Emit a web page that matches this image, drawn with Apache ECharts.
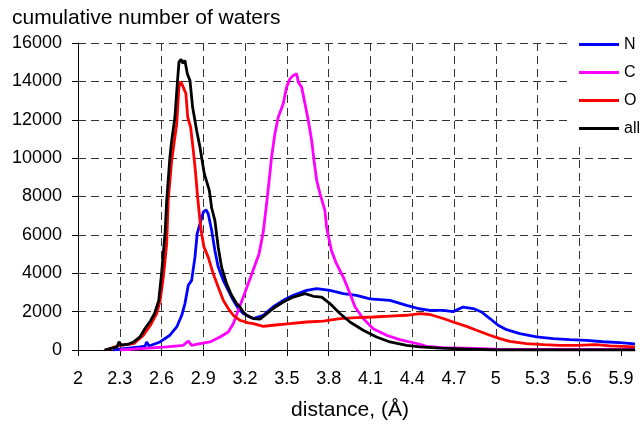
<!DOCTYPE html>
<html><head><meta charset="utf-8">
<script src="https://cdn.jsdelivr.net/npm/echarts@6/dist/echarts.min.js"></script>
<style>html,body{margin:0;padding:0;background:#fff}#c{width:640px;height:424px}</style>
</head><body><div id="c"></div>
<script>
const xTicks = [2, 2.3, 2.6, 2.9, 3.2, 3.5, 3.8, 4.1, 4.4, 4.7, 5, 5.3, 5.6, 5.9];
const seriesNames = ['N', 'C', 'O', 'all'];
const seriesColors = ['#0000ff', '#ff00ff', '#ff0000', '#000000'];

const nDist = [2.25, 2.33, 2.445, 2.481, 2.493, 2.51, 2.589, 2.66, 2.709, 2.745, 2.768, 2.792, 2.816, 2.84, 2.856, 2.876, 2.9, 2.919, 2.935, 2.96, 2.983, 3.007, 3.043, 3.079, 3.115, 3.151, 3.187, 3.235, 3.259, 3.33, 3.4, 3.474, 3.546, 3.642, 3.714, 3.809, 3.905, 4.0, 4.096, 4.24, 4.36, 4.45, 4.527, 4.623, 4.694, 4.766, 4.838, 4.898, 4.958, 5.017, 5.078, 5.173, 5.293, 5.412, 5.532, 5.652, 5.77, 5.89, 6.0];
const nVal  = [0, 70, 160, 200, 420, 210, 420, 770, 1200, 1810, 2420, 3370, 3630, 4840, 6060, 6580, 7190, 7310, 7100, 6230, 5190, 4320, 3630, 3110, 2590, 2160, 1900, 1720, 1640, 1810, 2240, 2590, 2850, 3110, 3200, 3110, 2940, 2850, 2660, 2590, 2330, 2150, 2060, 2070, 2000, 2240, 2160, 1980, 1640, 1290, 1060, 850, 680, 590, 540, 505, 430, 385, 320];

const cDist = [2.3, 2.4, 2.637, 2.756, 2.792, 2.816, 2.876, 2.948, 3.02, 3.079, 3.115, 3.151, 3.187, 3.24, 3.3, 3.33, 3.354, 3.378, 3.39, 3.414, 3.438, 3.474, 3.498, 3.522, 3.546, 3.57, 3.582, 3.606, 3.63, 3.654, 3.678, 3.695, 3.714, 3.738, 3.773, 3.785, 3.82, 3.856, 3.905, 3.953, 3.99, 4.048, 4.12, 4.216, 4.31, 4.455, 4.503, 4.623, 4.79, 5.0, 6.0];
const cVal  = [0, 50, 160, 245, 470, 245, 330, 420, 680, 940, 1370, 2070, 2760, 3800, 5000, 6130, 7600, 9190, 10050, 11270, 12130, 12830, 13700, 14130, 14310, 14400, 13960, 13700, 12830, 11960, 10920, 9880, 8840, 8150, 7280, 6400, 5190, 4500, 3800, 2940, 2240, 1640, 1110, 770, 540, 300, 190, 125, 100, 50, 30];

const oDist = [2.2, 2.3, 2.4, 2.47, 2.52, 2.565, 2.59, 2.613, 2.637, 2.648, 2.673, 2.709, 2.725, 2.737, 2.756, 2.775, 2.788, 2.809, 2.828, 2.845, 2.859, 2.876, 2.888, 2.905, 2.935, 2.971, 3.007, 3.043, 3.079, 3.115, 3.163, 3.223, 3.259, 3.33, 3.4, 3.522, 3.642, 3.762, 3.881, 4.0, 4.12, 4.24, 4.36, 4.455, 4.527, 4.623, 4.694, 4.79, 4.862, 4.958, 5.03, 5.1, 5.22, 5.34, 5.46, 5.58, 5.72, 5.82, 6.0];
const oVal  = [0, 245, 330, 770, 1290, 1900, 2590, 3800, 5540, 7800, 9880, 11790, 13700, 14000, 13700, 13350, 12130, 11610, 10400, 9190, 7970, 6750, 6060, 5360, 4840, 3980, 3280, 2590, 2160, 1810, 1550, 1410, 1370, 1230, 1290, 1370, 1460, 1510, 1640, 1690, 1720, 1770, 1810, 1900, 1850, 1640, 1460, 1230, 1030, 770, 590, 450, 330, 280, 245, 245, 280, 210, 160];

const allDist = [2.19, 2.28, 2.295, 2.31, 2.36, 2.4, 2.445, 2.48, 2.52, 2.55, 2.58, 2.6, 2.625, 2.637, 2.66, 2.673, 2.696, 2.713, 2.725, 2.74, 2.752, 2.768, 2.785, 2.804, 2.823, 2.852, 2.876, 2.907, 2.943, 2.96, 2.983, 3.007, 3.031, 3.067, 3.103, 3.139, 3.163, 3.187, 3.211, 3.235, 3.259, 3.307, 3.4, 3.474, 3.546, 3.63, 3.69, 3.75, 3.809, 3.881, 3.953, 4.048, 4.144, 4.24, 4.36, 4.455, 4.6, 4.8, 5.0, 6.0];
const allVal  = [0, 160, 430, 250, 300, 420, 680, 1110, 1510, 1900, 2590, 3980, 6060, 7800, 10050, 10920, 12130, 13870, 15000, 15150, 14950, 15090, 14400, 14050, 12660, 11440, 10570, 9190, 8320, 7400, 6750, 5360, 4320, 3460, 2850, 2420, 2240, 1980, 1810, 1720, 1640, 1610, 2160, 2500, 2760, 2940, 2800, 2760, 2420, 1900, 1460, 1030, 680, 420, 245, 160, 100, 50, 0, 0];

const FONT = 'Liberation Sans, Arial, sans-serif';
function pairs(xs, ys) { return xs.map((x, i) => [x, ys[i]]); }
const seriesData = [pairs(nDist, nVal), pairs(cDist, cVal), pairs(oDist, oVal), pairs(allDist, allVal)];

const chart = echarts.init(document.getElementById('c'), null, {renderer: 'canvas'});
chart.setOption({
  animation: false,
  backgroundColor: '#fff',
  title: {
    text: 'cumulative number of waters', left: 12, top: 8, padding: 0,
    textStyle: {fontFamily: FONT, fontSize: 21, fontWeight: 'normal', color: '#000'}
  },
  legend: {
    data: seriesNames.map(n => ({name: n, icon: 'rect'})),
    orient: 'vertical', left: 572, top: 32,
    padding: [4, 0, 6, 7], backgroundColor: '#fff',
    itemWidth: 40, itemHeight: 3, itemGap: 11,
    textStyle: {fontFamily: FONT, fontSize: 16, color: '#000', lineHeight: 17}
  },
  grid: {left: 78, right: 5, top: 43, bottom: 74, containLabel: false, outerBoundsMode: 'none'},
  xAxis: {
    type: 'value', min: 2, max: 6, interval: 0.3,
    name: 'distance, (Å)', nameLocation: 'middle', nameGap: 50,
    nameTextStyle: {fontFamily: FONT, fontSize: 21, color: '#000', padding: [0, 13, 0, 0]},
    axisLine: {show: true, onZero: false, lineStyle: {color: '#000', width: 1}},
    axisTick: {show: true, length: 6, inside: false, customValues: xTicks, lineStyle: {color: '#000'}},
    axisLabel: {customValues: xTicks, fontFamily: FONT, fontSize: 18, color: '#000', margin: 20,
      formatter: v => String(Math.round(v * 10) / 10)},
    splitLine: {show: true, showMinLine: false, showMaxLine: false, lineStyle: {color: '#333', type: [8, 5], width: 1}}
  },
  yAxis: {
    type: 'value', min: 0, max: 16000, interval: 2000,
    axisLine: {show: true, lineStyle: {color: '#000', width: 1}},
    axisTick: {show: true, length: 6, inside: false, lineStyle: {color: '#000'}},
    axisLabel: {fontFamily: FONT, fontSize: 18, color: '#000', margin: 16, formatter: v => String(v)},
    splitLine: {show: true, showMinLine: false, lineStyle: {color: '#333', type: [8, 5], width: 1}}
  },
  series: seriesNames.map((name, i) => ({
    name: name, type: 'line', data: seriesData[i],
    symbol: 'none', showSymbol: false, smooth: false,
    color: seriesColors[i],
    lineStyle: {color: seriesColors[i], width: 2.8}
  }))
});
</script>
</body></html>
